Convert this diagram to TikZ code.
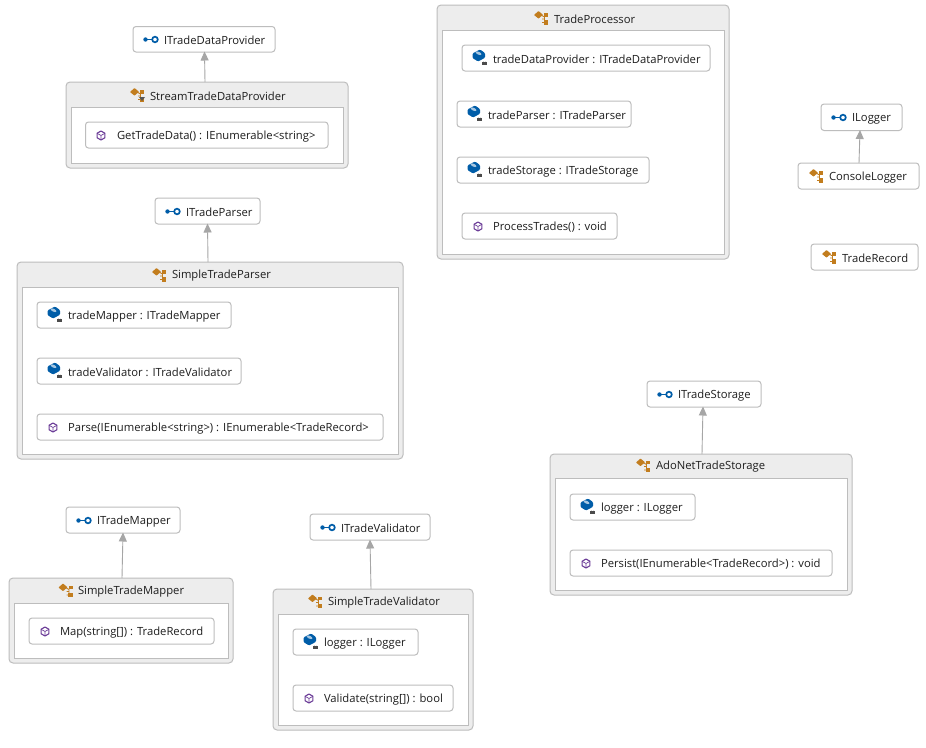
\documentclass[tikz,border=0pt]{standalone}
\usepackage{fontspec}
\setmainfont{Open Sans}
\usetikzlibrary{arrows.meta}
\definecolor{edge}{HTML}{BDBDBD}
\definecolor{hdr}{HTML}{EDEDED}
\definecolor{ink}{HTML}{1E1E1E}
\definecolor{arrowc}{HTML}{A6A6A6}
\definecolor{ifblue}{HTML}{005DA8}
\definecolor{clsorange}{HTML}{C27D1E}
\definecolor{mpurple}{HTML}{6C3D98}
\tikzset{
  x=1pt,y=-1pt,
  boxbase/.style={inner sep=0pt,outer sep=0pt,rounded corners=3pt,line width=1pt,draw=edge},
  leafbox/.style={boxbase,fill=white},
  outerbox/.style={boxbase,fill=hdr,rounded corners=4pt},
  innerbox/.style={inner sep=0pt,outer sep=0pt,line width=1pt,draw=edge,fill=white},
  lab/.style={inner sep=0pt,outer sep=0pt,anchor=west,yshift=-1pt,text=ink,font=\fontsize{11.25}{13}\selectfont},
  arr/.style={draw=arrowc,line width=0.9pt,-{Triangle[length=9pt,width=8pt,fill=arrowc]}},
}
% box: style, name, x1, y1, x2, y2
\newcommand{\bx}[6]{\node[#1,minimum width={#5-#3},minimum height={#6-#4}] (#2) at ({(#3+#5)/2},{(#4+#6)/2}) {};}
\newcommand{\iface}[2]{\begin{scope}[shift={(#1,#2)}]
  \fill[ifblue] (-4.5,0.5) circle (2.2pt);
  \draw[ifblue,line width=1pt] (-4.5,0.5) -- (2,0.5);
  \draw[ifblue,line width=1.7pt] (5,0.5) circle (2.8pt);
\end{scope}}
% class icon: origin at its left edge, mid height
\newcommand{\cls}[2]{\begin{scope}[shift={(#1,#2)}]
  \fill[clsorange,rounded corners=0.5pt] (0,-3) -- (4.5,-7) -- (9,-3.2) -- (4.5,0.6) -- cycle;
  \draw[clsorange,line width=0.9pt] (7,-3) -- (10.5,-1) -- (10.5,4.5) -- (8,4.5) (10.5,1) -- (8,1);
  \fill[clsorange] (10,-5) -- (14,-5) -- (14,-1.2) -- (10,-1.2) -- cycle;
  \fill[clsorange] (9.5,2) -- (14,2) -- (14,6.5) -- (9.5,6.5) -- cycle;
\end{scope}}
\newcommand{\meth}[2]{\begin{scope}[shift={(#1,#2)}]
  \draw[mpurple,line width=1.1pt,line join=round] (0,-4.5) -- (3.9,-2.25) -- (3.9,2.25) -- (0,4.5) -- (-3.9,2.25) -- (-3.9,-2.25) -- cycle;
  \draw[mpurple,line width=0.7pt] (-3.9,-2.25) -- (0,0) -- (3.9,-2.25) (0,0) -- (0,4.5);
\end{scope}}
\newcommand{\fld}[2]{\begin{scope}[shift={(#1,#2)}]
  \fill[ifblue,rounded corners=1pt] (-5.5,-2.5) -- (2,-6.5) -- (7,-3) -- (7,1.8) -- (0,5.5) -- (-5.5,2) -- cycle;
  \fill[white!65!ifblue,rotate around={-25:(0.5,-2.8)}] (0.5,-2.8) ellipse (3.2pt and 1.4pt);
  \fill[ink!80] (4.2,6) rectangle (9,9.4);
  \draw[ink!80,line width=0.8pt] (5.2,6) arc (180:0:1.4);
\end{scope}}
\begin{document}
\begin{tikzpicture}
\useasboundingbox (0,0) rectangle (926,747);
\fill[white] (0,0) rectangle (926,747);

% ---- interfaces and leaf classes
\bx{leafbox}{iTDP}{133}{26.5}{275}{52}
\iface{150}{39}\node[lab] (iTDPt) at (164,39.5) {ITradeDataProvider};
\bx{leafbox}{iTP}{155}{198}{260}{224}
\iface{172}{211}\node[lab] (iTPt) at (186,211.5) {ITradeParser};
\bx{leafbox}{iTM}{66}{507}{180}{533}
\iface{83}{520}\node[lab] (iTMt) at (97,520.5) {ITradeMapper};
\bx{leafbox}{iTV}{310}{514}{430}{540}
\iface{327}{527}\node[lab] (iTVt) at (341,527.5) {ITradeValidator};
\bx{leafbox}{iTS}{647}{381}{761}{407}
\iface{664}{394}\node[lab] (iTSt) at (678,394.5) {ITradeStorage};
\bx{leafbox}{iL}{821}{104}{902}{130.5}
\iface{838}{117}\node[lab] (iLt) at (852,117.5) {ILogger};
\bx{leafbox}{cL}{798}{163}{919}{189}
\cls{809}{176}\node[lab] (cLt) at (829,176.5) {ConsoleLogger};
\bx{leafbox}{tR}{811}{244}{918}{270}
\cls{822}{257}\node[lab] (tRt) at (842,257.5) {TradeRecord};

% ---- StreamTradeDataProvider
\bx{outerbox}{sT}{66}{82}{348}{168}
\bx{innerbox}{sTi}{71}{107.5}{343}{163.5}
\cls{130}{95}\node[lab] (sTt) at (150,95.5) {StreamTradeDataProvider};
\fill[ink!75] (139,97) -- (145,97) -- (142,101) -- cycle;
\bx{leafbox}{sT1}{85.5}{122}{328}{148}
\meth{101}{135.5}\node[lab] (sT1t) at (117,135.5) {GetTradeData() : IEnumerable<string>};

% ---- TradeProcessor
\bx{outerbox}{tP}{437}{5}{729}{259}
\bx{innerbox}{tPi}{442}{30}{724}{254}
\cls{534}{18}\node[lab] (tPt) at (554,18) {TradeProcessor};
\bx{leafbox}{tP1}{462}{45}{710}{71}
\fld{478}{56}\node[lab] (tP1t) at (493,58.5) {tradeDataProvider : ITradeDataProvider};
\bx{leafbox}{tP2}{457}{101}{631}{127}
\fld{473}{112}\node[lab] (tP2t) at (488,114.5) {tradeParser : ITradeParser};
\bx{leafbox}{tP3}{457}{157}{649}{183}
\fld{473}{168}\node[lab] (tP3t) at (488,170.5) {tradeStorage : ITradeStorage};
\bx{leafbox}{tP4}{462}{213}{617}{239}
\meth{478}{226.5}\node[lab] (tP4t) at (493,226.5) {ProcessTrades() : void};

% ---- SimpleTradeParser
\bx{outerbox}{sP}{17}{262}{403}{459}
\bx{innerbox}{sPi}{22}{287}{398}{454}
\cls{152}{275}\node[lab] (sPt) at (172,275) {SimpleTradeParser};
\bx{leafbox}{sP1}{37}{302}{231}{328}
\fld{53}{313}\node[lab] (sP1t) at (68,315.5) {tradeMapper : ITradeMapper};
\bx{leafbox}{sP2}{37}{358}{241}{384}
\fld{53}{369}\node[lab] (sP2t) at (68,371.5) {tradeValidator : ITradeValidator};
\bx{leafbox}{sP3}{37}{414}{383}{440}
\meth{53}{427.5}\node[lab] (sP3t) at (68,427.5) {Parse(IEnumerable<string>) : IEnumerable<TradeRecord>};

% ---- SimpleTradeMapper
\bx{outerbox}{sM}{9}{578}{233}{663}
\bx{innerbox}{sMi}{14}{603}{228}{658}
\cls{58.5}{590.5}\node[lab] (sMt) at (78,591) {SimpleTradeMapper};
\bx{leafbox}{sM1}{29}{618}{214}{644}
\meth{45}{631.5}\node[lab] (sM1t) at (60,631.5) {Map(string[]) : TradeRecord};

% ---- SimpleTradeValidator
\bx{outerbox}{sV}{273}{589}{473}{730}
\bx{innerbox}{sVi}{278}{614}{468}{725}
\cls{308}{601.5}\node[lab] (sVt) at (328,602) {SimpleTradeValidator};
\bx{leafbox}{sV1}{293}{629}{418}{655}
\fld{309}{640}\node[lab] (sV1t) at (324,642.5) {logger : ILogger};
\bx{leafbox}{sV2}{293}{685}{453}{711}
\meth{309}{698.5}\node[lab] (sV2t) at (324,698.5) {Validate(string[]) : bool};

% ---- AdoNetTradeStorage
\bx{outerbox}{aS}{550}{454}{852}{595}
\bx{innerbox}{aSi}{555}{478}{847}{590}
\cls{636}{465.5}\node[lab] (aSt) at (656,466) {AdoNetTradeStorage};
\bx{leafbox}{aS1}{570}{494}{695}{520}
\fld{586}{505}\node[lab] (aS1t) at (601,507.5) {logger : ILogger};
\bx{leafbox}{aS2}{570}{550}{832}{576}
\meth{586}{563.5}\node[lab] (aS2t) at (601,563.5) {Persist(IEnumerable<TradeRecord>) : void};

% ---- realisation arrows
\draw[arr] ([xshift=-2pt]sT.north) -- ([xshift=0.5pt,yshift=0.5pt]iTDP.south);
\draw[arr] ([xshift=-2pt]sP.north) -- ([yshift=0.5pt]iTP.south);
\draw[arr] ([xshift=1pt]sM.north) -- ([yshift=0.5pt]iTM.south);
\draw[arr] ([xshift=-2pt]sV.north) -- ([yshift=0.5pt]iTV.south);
\draw[arr] ([xshift=1pt]aS.north) -- ([xshift=-1pt,yshift=0.5pt]iTS.south);
\draw[arr] ([xshift=0.5pt]cL.north) -- ([xshift=-1.5pt,yshift=0.5pt]iL.south);
\end{tikzpicture}
\end{document}
